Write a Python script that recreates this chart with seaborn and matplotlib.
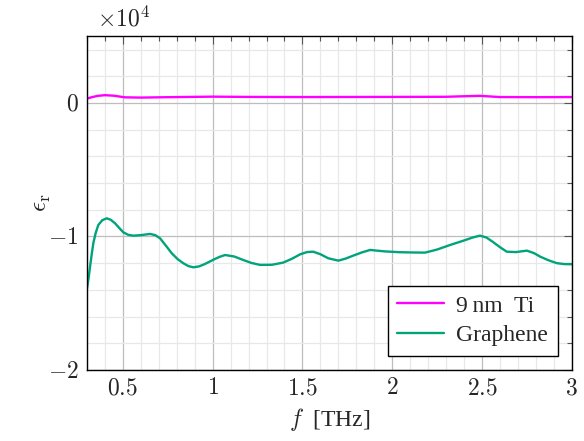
import numpy as np
import pandas as pd
import matplotlib
matplotlib.use("Agg")
import matplotlib.pyplot as plt
import seaborn as sns
from matplotlib.ticker import MultipleLocator

# Data (eps_r, raw units)
f_ti = [0.30, 0.33, 0.36, 0.40, 0.45, 0.51, 0.60, 0.75, 1.00, 1.20, 1.50,
        2.00, 2.30, 2.40, 2.49, 2.60, 2.80, 3.00]
eps_ti = [330, 440, 530, 580, 540, 420, 400, 430, 470, 450, 440,
          450, 460, 500, 530, 440, 430, 440]

f_gr = [0.300, 0.310, 0.317, 0.326, 0.335, 0.348, 0.363, 0.385, 0.410, 0.432,
        0.456, 0.480, 0.502, 0.530, 0.558, 0.600, 0.651, 0.680, 0.707, 0.740,
        0.772, 0.805, 0.837, 0.865, 0.892, 0.925, 0.957, 0.985, 1.010, 1.040,
        1.069, 1.120, 1.170, 1.215, 1.264, 1.330, 1.392, 1.440, 1.487, 1.525,
        1.560, 1.600, 1.643, 1.700, 1.740, 1.780, 1.830, 1.877, 1.960, 2.044,
        2.120, 2.183, 2.250, 2.322, 2.400, 2.450, 2.489, 2.525, 2.560, 2.600,
        2.638, 2.690, 2.750, 2.790, 2.824, 2.870, 2.917, 2.960, 3.000]
eps_gr = [-13880, -13000, -12260, -11350, -10510, -9750, -9140, -8780, -8640, -8750,
          -9010, -9370, -9690, -9880, -9940, -9900, -9810, -9900, -10140, -10700,
          -11260, -11700, -12010, -12220, -12310, -12240, -12060, -11870, -11700, -11520,
          -11390, -11500, -11760, -11980, -12130, -12120, -11960, -11680, -11340, -11170,
          -11140, -11330, -11630, -11810, -11660, -11450, -11200, -11010, -11120, -11180,
          -11200, -11210, -10980, -10640, -10300, -10070, -9940, -10080, -10400, -10800,
          -11140, -11170, -11060, -11250, -11510, -11780, -12000, -12070, -12080]

labels = ["9\u2009nm  Ti", "Graphene"]
colors = ["#ff00ff", "#00a37a"]

sns.set_style("white")
plt.rcParams["font.family"] = ["Liberation Serif", "DejaVu Serif"]
plt.rcParams["mathtext.fontset"] = "cm"

fig = plt.figure(figsize=(5.84, 4.41), dpi=100)
ax = fig.add_axes([0.149, 0.161, 0.830, 0.757])

sns.lineplot(x=f_ti, y=eps_ti, ax=ax, color=colors[0], lw=1.7, label=labels[0])
sns.lineplot(x=f_gr, y=eps_gr, ax=ax, color=colors[1], lw=1.7, label=labels[1])

ax.set_xlim(0.3, 3.0)
ax.set_ylim(-20000, 5000)
ax.xaxis.set_major_locator(MultipleLocator(0.5))
ax.xaxis.set_minor_locator(MultipleLocator(0.1))
ax.yaxis.set_major_locator(MultipleLocator(10000))
ax.yaxis.set_minor_locator(MultipleLocator(2000))

ax.xaxis.set_major_formatter(plt.FuncFormatter(lambda v, p: f"${v:g}$"))
ax.yaxis.set_major_formatter(plt.FuncFormatter(lambda v, p: f"${v / 1e4:g}$"))
ax.text(0.02, 1.015, r"$\times10^{4}$", transform=ax.transAxes, fontsize=17,
        ha="left", va="bottom")

ax.grid(which="major", color="#bdbdbd", lw=0.9)
ax.grid(which="minor", color="#e8e8e8", lw=0.9)
ax.set_axisbelow(True)

ax.tick_params(which="both", direction="in", top=True, right=True, labelsize=17)
ax.tick_params(which="major", length=6, width=0.8, color="#555555", pad=6)
ax.tick_params(which="minor", length=3.5, width=0.8, color="#555555")
for s in ax.spines.values():
    s.set_color("black")
    s.set_linewidth(1.0)

ax.set_xlabel(r"$f$  [THz]", fontsize=17, labelpad=5)
ax.set_ylabel(r"$\epsilon_\mathrm{r}$", fontsize=18)
ax.yaxis.set_label_coords(-0.07, 0.5)

leg = ax.legend(loc="lower right", fontsize=17, frameon=True, fancybox=False,
                framealpha=1, edgecolor="black", handlelength=2.0,
                borderaxespad=0.6, borderpad=0.4, labelspacing=0.35, handletextpad=0.5)
leg.get_frame().set_linewidth(1.0)

fig.savefig("out.png", dpi=100)
